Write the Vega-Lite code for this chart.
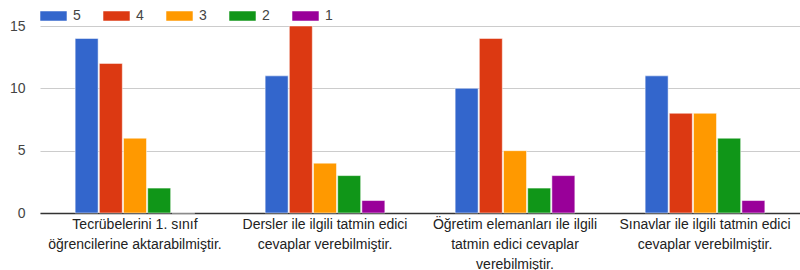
{
  "$schema": "https://vega.github.io/schema/vega-lite/v6.json",
  "width": 760,
  "height": 187,
  "autosize": {"type": "none"},
  "padding": {"left": 40, "top": 26, "right": 0, "bottom": 57},
  "background": "white",
  "config": {"font": "Liberation Sans", "view": {"stroke": null}},
  "data": {
    "values": [
      {"cat": "Tecrübelerini 1. sınıf|öğrencilerine aktarabilmiştir.", "s": "5", "v": 14},
      {"cat": "Tecrübelerini 1. sınıf|öğrencilerine aktarabilmiştir.", "s": "4", "v": 12},
      {"cat": "Tecrübelerini 1. sınıf|öğrencilerine aktarabilmiştir.", "s": "3", "v": 6},
      {"cat": "Tecrübelerini 1. sınıf|öğrencilerine aktarabilmiştir.", "s": "2", "v": 2},
      {"cat": "Tecrübelerini 1. sınıf|öğrencilerine aktarabilmiştir.", "s": "1", "v": 0},
      {"cat": "Dersler ile ilgili tatmin edici|cevaplar verebilmiştir.", "s": "5", "v": 11},
      {"cat": "Dersler ile ilgili tatmin edici|cevaplar verebilmiştir.", "s": "4", "v": 15},
      {"cat": "Dersler ile ilgili tatmin edici|cevaplar verebilmiştir.", "s": "3", "v": 4},
      {"cat": "Dersler ile ilgili tatmin edici|cevaplar verebilmiştir.", "s": "2", "v": 3},
      {"cat": "Dersler ile ilgili tatmin edici|cevaplar verebilmiştir.", "s": "1", "v": 1},
      {"cat": "Öğretim elemanları ile ilgili|tatmin edici cevaplar|verebilmiştir.", "s": "5", "v": 10},
      {"cat": "Öğretim elemanları ile ilgili|tatmin edici cevaplar|verebilmiştir.", "s": "4", "v": 14},
      {"cat": "Öğretim elemanları ile ilgili|tatmin edici cevaplar|verebilmiştir.", "s": "3", "v": 5},
      {"cat": "Öğretim elemanları ile ilgili|tatmin edici cevaplar|verebilmiştir.", "s": "2", "v": 2},
      {"cat": "Öğretim elemanları ile ilgili|tatmin edici cevaplar|verebilmiştir.", "s": "1", "v": 3},
      {"cat": "Sınavlar ile ilgili tatmin edici|cevaplar verebilmiştir.", "s": "5", "v": 11},
      {"cat": "Sınavlar ile ilgili tatmin edici|cevaplar verebilmiştir.", "s": "4", "v": 8},
      {"cat": "Sınavlar ile ilgili tatmin edici|cevaplar verebilmiştir.", "s": "3", "v": 8},
      {"cat": "Sınavlar ile ilgili tatmin edici|cevaplar verebilmiştir.", "s": "2", "v": 6},
      {"cat": "Sınavlar ile ilgili tatmin edici|cevaplar verebilmiştir.", "s": "1", "v": 1}
    ]
  },
  "mark": {"type": "bar", "stroke": "white", "strokeWidth": 0.5},
  "encoding": {
    "x": {
      "field": "cat", "type": "nominal", "sort": null,
      "scale": {"paddingInner": 0.37, "paddingOuter": 0.185},
      "axis": {
        "title": null, "labelAngle": 0, "labelExpr": "split(datum.label, '|')",
        "labelFontSize": 14, "labelColor": "#222222", "labelPadding": 4,
        "ticks": false, "domainColor": "#333333", "domainWidth": 1.5, "labelLineHeight": 20
      }
    },
    "xOffset": {"field": "s", "type": "nominal", "sort": ["5", "4", "3", "2", "1"], "scale": {"paddingInner": 0.05}},
    "y": {
      "field": "v", "type": "quantitative",
      "scale": {"domain": [0, 15], "nice": false},
      "axis": {
        "title": null, "values": [0, 5, 10, 15], "domain": false, "ticks": false,
        "labelFontSize": 14, "labelColor": "#444444", "labelPadding": 15,
        "gridColor": "#cccccc"
      }
    },
    "color": {
      "field": "s", "type": "nominal",
      "scale": {"domain": ["5", "4", "3", "2", "1"], "range": ["#3366cc", "#dc3912", "#ff9900", "#109618", "#990099"]},
      "legend": {
        "title": null, "orient": "none", "legendX": 0, "legendY": -17, "direction": "horizontal",
        "symbolType": "M-1,-0.35H1V0.35H-1Z", "symbolSize": 700, "symbolStrokeWidth": 0,
        "labelFontSize": 14, "labelColor": "#444444", "columnPadding": 22, "symbolOffset": 0,
        "labelOffset": 6, "clipHeight": 14
      }
    }
  }
}
